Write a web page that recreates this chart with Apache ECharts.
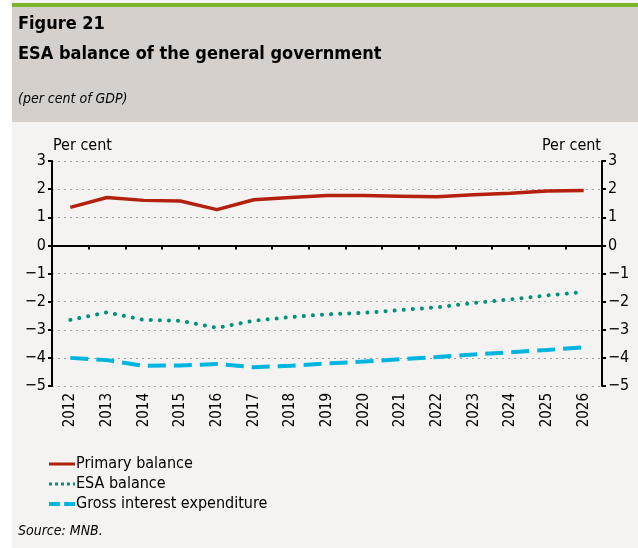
<!DOCTYPE html>
<html><head><meta charset="utf-8">
<script src="https://cdn.jsdelivr.net/npm/echarts@6/dist/echarts.min.js"></script>
<style>html,body{margin:0;padding:0;background:#fff}#c{width:638px;height:548px}</style>
</head><body><div id="c"></div>
<script>
const years = ['2012','2013','2014','2015','2016','2017','2018','2019','2020','2021','2022','2023','2024','2025','2026'];
const primaryBalance = [1.35,1.70,1.60,1.58,1.27,1.62,1.70,1.77,1.77,1.75,1.73,1.80,1.85,1.93,1.95];
const esaBalance = [-2.65,-2.38,-2.65,-2.68,-2.93,-2.68,-2.55,-2.45,-2.40,-2.30,-2.20,-2.05,-1.92,-1.78,-1.66];
const grossInterest = [-4.00,-4.08,-4.28,-4.27,-4.22,-4.33,-4.28,-4.20,-4.13,-4.05,-3.97,-3.88,-3.80,-3.72,-3.62];
const yTicks = {min:-5, max:3, interval:1};

const FONT = '"DejaVu Sans Condensed","DejaVu Sans",sans-serif';
const chart = echarts.init(document.getElementById('c'));
const yAxisBase = {
  type:'value', min:yTicks.min, max:yTicks.max, interval:yTicks.interval,
  axisLine:{show:true, lineStyle:{color:'#000', width:2}},
  axisTick:{show:true, length:4, lineStyle:{color:'#000', width:2}},
  axisLabel:{color:'#000', fontSize:16, fontFamily:FONT, margin:6,
    formatter:v=> v<0 ? '\u2212'+Math.abs(v) : String(v)},
  splitLine:{show:true, lineStyle:{color:'#a0a0a0', type:[2,4], width:1}}
};
chart.setOption({
  backgroundColor:'#f4f3f1',
  animation:false,
  graphic:[
    {type:'rect', shape:{x:0,y:0,width:12,height:548}, style:{fill:'#ffffff'}, silent:true},
    {type:'rect', shape:{x:12,y:3,width:626,height:4}, style:{fill:'#7ab52a'}, silent:true},
    {type:'rect', shape:{x:12,y:7,width:626,height:115}, style:{fill:'#d5d0cb'}, silent:true},
    {type:'text', left:18, top:15, style:{text:'Figure 21', fontSize:18, fontWeight:'bold', fontFamily:FONT, fill:'#000'}},
    {type:'text', left:18, top:45, style:{text:'ESA balance of the general government', fontSize:18, fontWeight:'bold', fontFamily:FONT, fill:'#000'}},
    {type:'text', left:18, top:92, style:{text:'(per cent of GDP)', fontSize:14, fontStyle:'italic', fontFamily:FONT, fill:'#000'}},
    {type:'text', left:53, top:138, style:{text:'Per cent', fontSize:16, fontFamily:FONT, fill:'#000'}},
    {type:'text', right:37, top:138, style:{text:'Per cent', fontSize:16, fontFamily:FONT, fill:'#000', align:'right'}},
    {type:'text', left:18, top:524, style:{text:'Source: MNB.', fontSize:14, fontStyle:'italic', fontFamily:FONT, fill:'#000'}}
  ],
  grid:{left:52, right:36, top:161, bottom:162, containLabel:false},
  legend:{
    orient:'vertical', left:44, top:451, itemGap:4, itemWidth:26, itemHeight:14,
    textStyle:{fontSize:16, fontFamily:FONT, color:'#000', padding:[0,0,0,-4]},
    data:[
      {name:'Primary balance', icon:'path://M0,6H26V9H0Z'},
      {name:'ESA balance', icon:'path://M0,6.5h3v3h-3zM6,6.5h3v3h-3zM12,6.5h3v3h-3zM18,6.5h3v3h-3zM24,6.5h2v3h-2z'},
      {name:'Gross interest expenditure', icon:'path://M0,6H10V9.5H0ZM14,6H24V9.5H14Z'}
    ]
  },
  xAxis:[
    {type:'category', data:years, boundaryGap:true,
     axisLine:{onZero:true, lineStyle:{color:'#000', width:2}},
     axisTick:{show:true, inside:false, length:4, lineStyle:{color:'#000', width:2}},
     axisLabel:{show:false}, splitLine:{show:false}},
    {type:'category', data:years, boundaryGap:true, position:'bottom',
     axisLine:{show:false, onZero:false}, axisTick:{show:false},
     axisLabel:{show:true, rotate:90, fontSize:15, fontFamily:FONT, color:'#000', margin:7},
     splitLine:{show:false}}
  ],
  yAxis:[
    Object.assign({}, yAxisBase, {position:'left'}),
    Object.assign({}, yAxisBase, {position:'right', splitLine:{show:false}})
  ],
  series:[
    {name:'Primary balance', type:'line', data:primaryBalance, symbol:'none', xAxisIndex:0, yAxisIndex:0,
     lineStyle:{color:'#b3200e', width:3.5}, itemStyle:{color:'#b3200e'}},
    {name:'ESA balance', type:'line', data:esaBalance, symbol:'none', xAxisIndex:0, yAxisIndex:0,
     lineStyle:{color:'#00917a', width:4, type:[0.1,9], cap:'round'}, itemStyle:{color:'#00917a'}},
    {name:'Gross interest expenditure', type:'line', data:grossInterest, symbol:'none', xAxisIndex:0, yAxisIndex:0,
     lineStyle:{color:'#00b4e0', width:4, type:[18,8]}, itemStyle:{color:'#00b4e0'}}
  ]
});
</script></body></html>
